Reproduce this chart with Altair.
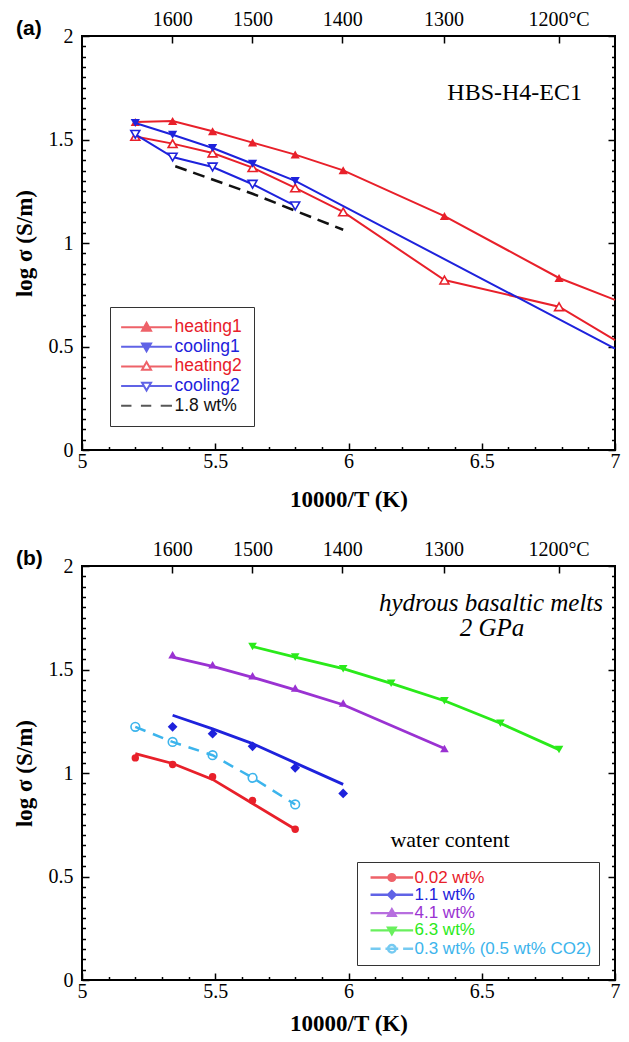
import altair as alt
import pandas as pd

# ---------------- panel (a) : HBS-H4-EC1 ----------------
A_SERIES = ["heating1", "cooling1", "heating2", "cooling2", "1.8 wt%"]
A_HEAT1_X = [5.20, 5.34, 5.49, 5.64, 5.80, 5.98, 6.36, 6.79, 7.00]
A_HEAT1_Y = [1.585, 1.589, 1.540, 1.485, 1.427, 1.351, 1.130, 0.831, 0.725]
A_HEAT1_M = [1, 1, 1, 1, 1, 1, 1, 1, 0]
A_COOL1_X = [5.20, 5.34, 5.49, 5.64, 5.80, 7.00]
A_COOL1_Y = [1.580, 1.523, 1.459, 1.383, 1.300, 0.490]
A_COOL1_M = [1, 1, 1, 1, 1, 0]
A_HEAT2_X = [5.20, 5.34, 5.49, 5.64, 5.80, 5.98, 6.36, 6.79, 7.00]
A_HEAT2_Y = [1.515, 1.480, 1.435, 1.364, 1.266, 1.150, 0.821, 0.692, 0.531]
A_HEAT2_M = [1, 1, 1, 1, 1, 1, 1, 1, 0]
A_COOL2_X = [5.20, 5.34, 5.49, 5.64, 5.80]
A_COOL2_Y = [1.525, 1.415, 1.367, 1.284, 1.179]
A_COOL2_M = [1, 1, 1, 1, 1]
A_WT18_X = [5.35, 5.64, 5.98]
A_WT18_Y = [1.371, 1.238, 1.064]
A_WT18_M = [0, 0, 0]

# ---------------- panel (b) : hydrous basaltic melts ----------------
B_SERIES = ["0.02 wt%", "1.1 wt%", "4.1 wt%", "6.3 wt%", "0.3 wt% (0.5 wt% CO2)"]
B_W002_X = [5.20, 5.34, 5.49, 5.64, 5.80]
B_W002_Y = [1.073, 1.041, 0.982, 0.867, 0.728]
B_W002_FIT = [1.094, 1.046, 0.969, 0.853, 0.728]
B_W11_X = [5.34, 5.49, 5.64, 5.80, 5.98]
B_W11_Y = [1.223, 1.190, 1.129, 1.025, 0.901]
B_W11_FIT = [1.279, 1.213, 1.142, 1.049, 0.945]
B_W41_X = [5.34, 5.49, 5.64, 5.80, 5.98, 6.36]
B_W41_Y = [1.571, 1.523, 1.470, 1.411, 1.338, 1.118]
B_W41_FIT = [1.560, 1.515, 1.462, 1.402, 1.330, 1.118]
B_W63_X = [5.64, 5.80, 5.98, 6.16, 6.36, 6.57, 6.79]
B_W63_Y = [1.611, 1.560, 1.504, 1.433, 1.349, 1.240, 1.113]
B_W63_FIT = [1.611, 1.560, 1.504, 1.433, 1.349, 1.240, 1.113]
B_CO2_X = [5.20, 5.34, 5.49, 5.64, 5.80]
B_CO2_Y = [1.223, 1.150, 1.086, 0.977, 0.848]
B_CO2_FIT = [1.223, 1.150, 1.086, 0.977, 0.848]

# axis ticks
X_MAJOR = [5, 5.5, 6, 6.5, 7]
Y_MAJOR = [0, 0.5, 1, 1.5, 2]
TEMPS_C = [1600, 1500, 1400, 1300, 1200]

RED = "#e8202a"
BLUE = "#1e22dc"
PURPLE = "#9a32d2"
GREEN = "#2aea1a"
CYAN = "#3cb4ec"
BLACK = "#111111"
SERIF = "Liberation Serif"
SANS = "Liberation Sans"

W, H = 533, 414
XS = alt.Scale(domain=[5, 7], nice=False, zero=False)
YS = alt.Scale(domain=[0, 2], nice=False, zero=False)

x_minor = [round(5 + i * 0.1, 2) for i in range(21) if i % 5]
y_minor = [round(i * 0.05, 2) for i in range(41) if i % 10]
top_vals = [10000.0 / (t + 273.15) for t in TEMPS_C]


def tick_axis(orient, values, size, **kw):
    base = dict(orient=orient, values=values, offset=-size, tickSize=size,
                tickWidth=1.5, tickColor="black", domain=False, grid=False,
                labels=False, title=None)
    base.update(kw)
    return alt.Axis(**base)


def axis_layers(dummy, xtitle_center):
    c = alt.Chart(dummy).transform_filter("false").mark_point(opacity=0)
    lab = dict(labels=True, labelFont=SERIF, labelFontSize=20, labelColor="black",
               labelFlush=False, labelOverlap=False, format="~g")
    a1 = c.encode(
        x=alt.X("x:Q", scale=XS, axis=tick_axis(
            "bottom", X_MAJOR, 7, labelPadding=1, title="10000/T (K)",
            titleFont=SERIF, titleFontSize=23, titleFontWeight="bold",
            titleColor="black", titleY=xtitle_center + 7, titleBaseline="middle", **lab)),
        y=alt.Y("y:Q", scale=YS, axis=tick_axis(
            "left", Y_MAJOR, 7, labelPadding=9, title="log σ (S/m)",
            titleFont=SERIF, titleFontSize=23, titleFontWeight="bold",
            titleColor="black", titleX=-65, titleY=H / 2, titleAngle=270,
            titleBaseline="middle", titleAlign="center", **lab)),
    )
    a2 = c.encode(
        x=alt.X("x:Q", scale=XS, axis=tick_axis("bottom", x_minor, 3.5)),
        y=alt.Y("y:Q", scale=YS, axis=tick_axis("left", y_minor, 3.5)),
    )
    a3 = c.encode(
        x=alt.X("x:Q", scale=XS, axis=tick_axis(
            "top", top_vals, 7, labels=True, labelFont=SERIF, labelFontSize=20,
            labelColor="black", labelPadding=7, labelFlush=False, labelOverlap=False,
            labelExpr="round(10000/datum.value - 273.15) + (round(10000/datum.value - 273.15) == 1200 ? '°C' : '')")),
        y=alt.Y("y:Q", scale=YS, axis=tick_axis("right", Y_MAJOR, 7)),
    )
    a4 = c.encode(
        x=alt.X("x:Q", scale=XS, axis=None),
        y=alt.Y("y:Q", scale=YS, axis=tick_axis("right", y_minor, 3.5)),
    )
    return [a1, a2, a3, a4]


def series_layers(xs, ys, fit, marked, color, width, dash, shape, filled, size,
                  fill=None):
    df = pd.DataFrame({"x": xs, "y": ys, "fit": fit, "m": marked})
    enc = dict(x=alt.X("x:Q", scale=XS, axis=None))
    line_kw = dict(color=color, strokeWidth=width)
    if dash:
        line_kw["strokeDash"] = dash
    line = alt.Chart(df).mark_line(**line_kw).encode(
        y=alt.Y("fit:Q", scale=YS, axis=None), **enc)
    out = [line]
    if shape is not None:
        pk = dict(shape=shape, size=size)
        if filled:
            pk.update(filled=True, color=color, opacity=1)
        else:
            pk.update(filled=False, stroke=color, strokeWidth=1.6, opacity=1)
            if fill:
                pk["fill"] = fill
        pts = alt.Chart(df).transform_filter("datum.m == 1").mark_point(**pk).encode(
            y=alt.Y("y:Q", scale=YS, axis=None), **enc)
        out.append(pts)
    return out


# ---------- legend symbol paths (line + marker) ----------
def seg(a, b):
    return f"M{a:.2f},0L{b:.2f},0"


def up(c):
    return f"M{c:.2f},-1L{c + 1:.2f},0.75L{c - 1:.2f},0.75Z"


def down(c):
    return f"M{c:.2f},1L{c + 1:.2f},-0.75L{c - 1:.2f},-0.75Z"


def diamond(c):
    return f"M{c:.2f},-1L{c + 1:.2f},0L{c:.2f},1L{c - 1:.2f},0Z"


def circle(c, r):
    return (f"M{c - r:.2f},0A{r},{r} 0 1,0 {c + r:.2f},0"
            f"A{r},{r} 0 1,0 {c - r:.2f},0Z")


def color_expr(names, cols):
    n = "[" + ",".join(f"'{v}'" for v in names) + "]"
    c = "[" + ",".join(f"'{v}'" for v in cols) + "]"
    return f"{c}[indexof({n}, datum.value)]"


def legend_layer(names, strokes, fills, paths, lx, ly, fs, size, sw, loff, pad, rowpad):
    leg = alt.Legend(
        title=None, orient="none", legendX=lx, legendY=ly, direction="vertical",
        strokeColor="#333333", fillColor="white", padding=pad, rowPadding=rowpad,
        labelFont=SANS, labelFontSize=fs, labelOffset=loff, labelLimit=400,
        labelColor={"expr": color_expr(names, strokes)},
        symbolSize=size, symbolStrokeWidth=sw,
        symbolFillColor="white", symbolStrokeColor="black",
    )
    df = pd.DataFrame({"series": names})
    return alt.Chart(df).transform_filter("false").mark_point(
        filled=False, size=size, strokeWidth=sw).encode(
        color=alt.Color("series:N", scale=alt.Scale(domain=names, range=strokes), legend=leg),
        fill=alt.Fill("series:N", scale=alt.Scale(domain=names, range=fills), legend=leg),
        shape=alt.Shape("series:N", scale=alt.Scale(domain=names, range=paths), legend=leg),
    )


def text_layer(txt, x, y, **kw):
    return alt.Chart(pd.DataFrame({"t": [txt]})).mark_text(**kw).encode(
        text="t:N", x=alt.value(x), y=alt.value(y))


dummy = pd.DataFrame({"x": [5.0], "y": [0.0]})

# ---------------- build panel (a) ----------------
la, ra = -2.03, 9.27
ca = (la + ra) / 2
A_PATHS = [
    seg(la, ca - 0.6) + seg(ca + 0.6, ra) + up(ca),
    seg(la, ca - 0.6) + seg(ca + 0.6, ra) + down(ca),
    seg(la, ca - 0.6) + seg(ca + 0.6, ra) + up(ca),
    seg(la, ca - 0.6) + seg(ca + 0.6, ra) + down(ca),
    seg(la, 0.27) + seg(2.37, 4.67) + seg(6.77, ra),
]
a_layers = axis_layers(dummy, 49)
a_layers += series_layers(A_HEAT1_X, A_HEAT1_Y, A_HEAT1_Y, A_HEAT1_M, RED, 2, None, "triangle-up", True, 85)
a_layers += series_layers(A_HEAT2_X, A_HEAT2_Y, A_HEAT2_Y, A_HEAT2_M, RED, 2, None, "triangle-up", False, 80, "white")
a_layers += series_layers(A_COOL1_X, A_COOL1_Y, A_COOL1_Y, A_COOL1_M, BLUE, 2, None, "triangle-down", True, 85)
a_layers += series_layers(A_COOL2_X, A_COOL2_Y, A_COOL2_Y, A_COOL2_M, BLUE, 2, None, "triangle-down", False, 80, "white")
a_layers += series_layers(A_WT18_X, A_WT18_Y, A_WT18_Y, A_WT18_M, BLACK, 2.5, [12, 7], None, False, 0)
a_layers.append(legend_layer(A_SERIES, [RED, BLUE, RED, BLUE, BLACK],
                             [RED, BLUE, "white", "white", "transparent"], A_PATHS,
                             28, 271, 17.5, 81, 2, 35.5, 11.5, 0.6))
a_layers.append(text_layer("HBS-H4-EC1", 500, 64, align="right", baseline="alphabetic",
                           font=SERIF, fontSize=24, color="black"))
a_layers.append(text_layer("(a)", -66, -7, align="left", baseline="middle",
                           font=SANS, fontSize=21, fontWeight="bold", color="black"))
panel_a = alt.layer(*a_layers).resolve_axis(x="independent", y="independent").properties(
    width=W, height=H)

# ---------------- build panel (b) ----------------
lb, rb = -0.52, 10.84
cb = (lb + rb) / 2
B_PATHS = [
    seg(lb, rb) + circle(cb, 0.9),
    seg(lb, rb) + diamond(cb),
    seg(lb, rb) + up(cb),
    seg(lb, rb) + down(cb),
    seg(lb, cb - 3.0) + seg(cb - 1.7, cb + 1.7) + seg(cb + 3.0, rb) + circle(cb, 1.0),
]
b_layers = axis_layers(dummy, 43)
b_layers += series_layers(B_W63_X, B_W63_Y, B_W63_FIT, [1] * len(B_W63_X), GREEN, 2.8, None, "triangle-down", True, 75)
b_layers += series_layers(B_W41_X, B_W41_Y, B_W41_FIT, [1] * len(B_W41_X), PURPLE, 2.8, None, "triangle-up", True, 75)
b_layers += series_layers(B_W11_X, B_W11_Y, B_W11_FIT, [1] * len(B_W11_X), BLUE, 2.8, None, "diamond", True, 95)
b_layers += series_layers(B_CO2_X, B_CO2_Y, B_CO2_FIT, [1] * len(B_CO2_X), CYAN, 2.5, [11, 8], "circle", False, 75)
b_layers += series_layers(B_W002_X, B_W002_Y, B_W002_FIT, [1] * len(B_W002_X), RED, 2.8, None, "circle", True, 55)
b_layers.append(legend_layer(B_SERIES, [RED, BLUE, PURPLE, GREEN, CYAN],
                             [RED, BLUE, PURPLE, GREEN, "transparent"], B_PATHS,
                             275, 296, 17, 56.25, 2.4, 33.5, 7, -0.7))
b_layers.append(text_layer("hydrous basaltic melts", 409, 45, align="center", baseline="alphabetic",
                           font=SERIF, fontSize=25, fontStyle="italic", color="black"))
b_layers.append(text_layer("2 GPa", 410, 70, align="center", baseline="alphabetic",
                           font=SERIF, fontSize=25, fontStyle="italic", color="black"))
b_layers.append(text_layer("water content", 368, 281, align="center", baseline="alphabetic",
                           font=SERIF, fontSize=22, color="black"))
b_layers.append(text_layer("(b)", -66, -7, align="left", baseline="middle",
                           font=SANS, fontSize=21, fontWeight="bold", color="black"))
panel_b = alt.layer(*b_layers).resolve_axis(x="independent", y="independent").properties(
    width=W, height=H)

chart = alt.vconcat(panel_a, panel_b, spacing=26).resolve_scale(
    color="independent", fill="independent", shape="independent"
).properties(
    padding={"left": 4, "top": 0, "right": 0, "bottom": 0},
    background="white",
).configure_view(stroke="black", strokeWidth=2)

chart.save("out.html", embed_options={"renderer": "svg", "actions": False})
